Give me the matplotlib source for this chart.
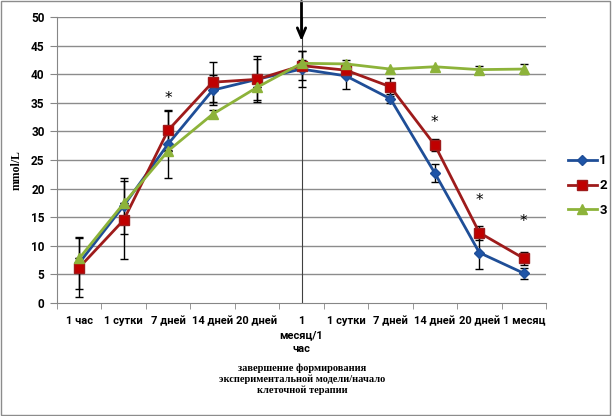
import matplotlib.pyplot as plt
import matplotlib.patches as patches
import numpy as np

categories = ["1 час", "1 сутки", "7 дней", "14 дней", "20 дней", "1\nмесяц/1\nчас",
              "1 сутки", "7 дней", "14 дней", "20 дней", "1 месяц"]

s1 = [7.0, 17.0, 27.8, 37.2, 39.1, 40.9, 39.7, 35.7, 22.7, 8.8, 5.2]
s1_err = [4.5, 4.9, 5.9, 2.6, 3.6, 3.2, 2.3, 0.8, 1.6, 2.9, 1.0]

s2 = [6.2, 14.5, 30.2, 38.6, 39.1, 41.5, 40.7, 37.8, 27.6, 12.3, 7.8]
s2_err = [5.2, 6.8, 3.4, 3.5, 4.0, 2.5, 1.0, 1.6, 1.0, 1.2, 1.2]

s3 = [7.8, 17.4, 26.6, 33.0, 37.7, 41.9, 41.8, 40.9, 41.3, 40.8, 40.9]
s3_err = [0, 0, 0, 0.7, 0, 0.6, 0.6, 0, 0, 0.6, 0.8]

stars_x = [2, 8, 9, 10]
stars_y = [35.7, 31.6, 18.0, 14.2]

x = np.arange(len(categories))
sans = ["Roboto", "DejaVu Sans"]

fig = plt.figure(figsize=(6.12, 4.16), dpi=100)
ax = fig.add_axes([57/612, 1-303/416, (546-57)/612, (303-17)/416])

# frame around chart
fig.patches.append(patches.Rectangle((0.002, 0.003), 0.995, 0.994, transform=fig.transFigure,
                                     fill=False, edgecolor="#8c8c8c", linewidth=1))

for v in range(5, 55, 5):
    ax.axhline(v, color="#8c8c8c", linewidth=1, zorder=0)

ax.plot([5, 5], [0, 50], color="#404040", linewidth=0.8, zorder=1)
ax.annotate("", xy=(5, 45.3), xytext=(5, 53.2), xycoords="data",
            arrowprops=dict(arrowstyle="->,head_width=0.3,head_length=0.7", color="black", lw=2),
            annotation_clip=False)

col1 = "#1f4e97"
col2 = "#9e1b1b"
col3 = "#8db33a"

ax.errorbar(x, s1, yerr=s1_err, fmt="none", ecolor="black", elinewidth=1, capsize=3, zorder=2)
ax.errorbar(x, s2, yerr=s2_err, fmt="none", ecolor="black", elinewidth=1, capsize=3, zorder=2)
ax.errorbar(x, s3, yerr=s3_err, fmt="none", ecolor="black", elinewidth=1, capsize=3, zorder=2)

ax.plot(x, s1, color=col1, linewidth=2, marker="D", markersize=5, markerfacecolor="#1f55a8",
        markeredgecolor=col1, label="1", zorder=3)
ax.plot(x, s2, color=col2, linewidth=2, marker="s", markersize=7.5, markerfacecolor="#c00000",
        markeredgecolor=col2, label="2", zorder=4)
ax.plot(x, s3, color=col3, linewidth=2, marker="^", markersize=7, markerfacecolor=col3,
        markeredgecolor=col3, label="3", zorder=5)

for sx, sy in zip(stars_x, stars_y):
    ax.text(sx, sy, "*", ha="center", va="center", fontsize=11, color="black")

ax.set_xlim(-0.5, 10.5)
ax.set_ylim(0, 50)
ax.set_yticks(range(0, 55, 5))
ax.set_xticks(x)
ax.set_xticklabels(categories, fontsize=8, fontweight="bold", linespacing=1.55, family=sans)
ax.set_xticks(np.arange(-0.5, 11, 1), minor=True)
ax.tick_params(axis="x", which="major", length=0, pad=9)
ax.tick_params(axis="x", which="minor", length=4, direction="out", color="#868686")
ax.tick_params(axis="y", length=5, direction="out", color="#868686", pad=4)
for lab in ax.get_yticklabels():
    lab.set_fontsize(8.5)
    lab.set_fontweight("bold")
    lab.set_family(sans)

for side in ["top", "right"]:
    ax.spines[side].set_visible(False)
ax.spines["left"].set_color("#868686")
ax.spines["bottom"].set_color("#868686")

fig.text(17/612, 1-170/416, "mmol/L", rotation=90, ha="center", va="center",
         fontsize=8.5, fontweight="bold", family="Liberation Serif")
fig.text(302/612, 1-379/416,
         "завершение формирования\nэкспериментальной модели/начало\nклеточной терапии",
         ha="center", va="center", fontsize=7.5, fontweight="bold", family="Liberation Serif",
         linespacing=1.2)

leg = ax.legend(loc="center left", bbox_to_anchor=(1.02, 0.41), frameon=False, handlelength=2.2,
                prop=dict(size=9.5, weight="bold", family=sans), labelspacing=0.9, handletextpad=0.2)

fig.savefig("out.png", dpi=100)
